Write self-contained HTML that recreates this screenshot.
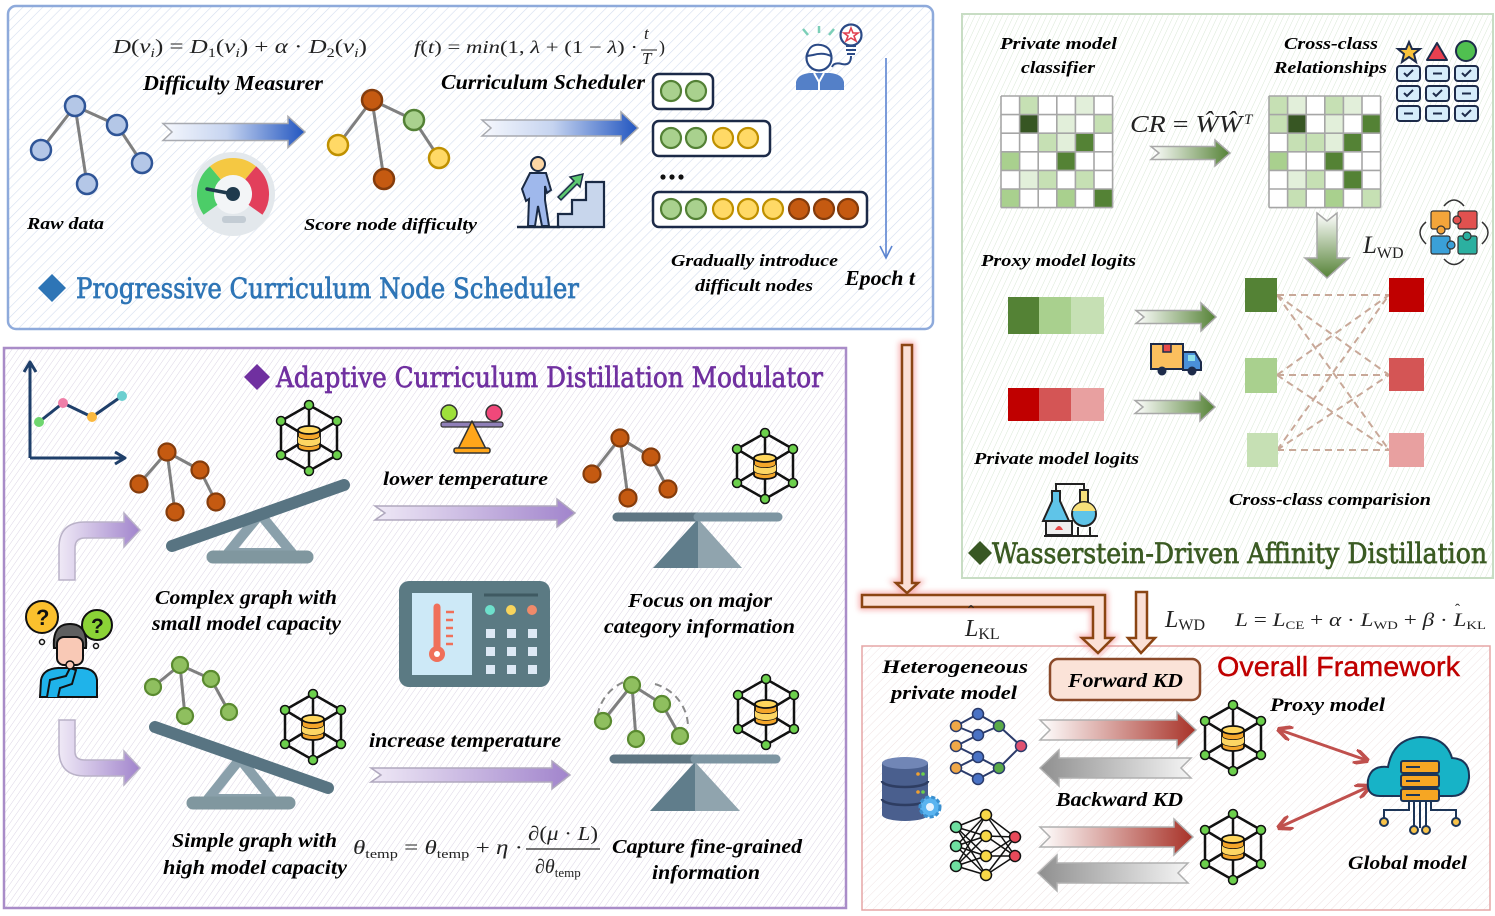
<!DOCTYPE html>
<html><head><meta charset="utf-8"><style>
html,body{margin:0;padding:0;background:#fff;}
svg{display:block;}
.lb{font-family:"Liberation Serif",serif;font-weight:bold;font-style:italic;fill:#000;}
.m{font-family:"Liberation Serif",serif;fill:#222;}
.i{font-style:italic;}
.ttl{font-family:"DejaVu Serif","Liberation Serif",serif;stroke-width:0.7;}
</style></head><body>
<svg width="1495" height="916" viewBox="0 0 1495 916" xmlns="http://www.w3.org/2000/svg">
<defs>
<pattern id="hb" width="7" height="7" patternUnits="userSpaceOnUse" patternTransform="rotate(45)"><line x1="0" y1="0" x2="0" y2="7" stroke="#d3ddef" stroke-width="1.2"/></pattern>
<pattern id="hg" width="5" height="5" patternUnits="userSpaceOnUse" patternTransform="rotate(25)"><line x1="0" y1="0" x2="0" y2="5" stroke="#d9e8d5" stroke-width="1"/></pattern>
<pattern id="hp" width="5" height="5" patternUnits="userSpaceOnUse" patternTransform="rotate(35)"><line x1="0" y1="0" x2="0" y2="5" stroke="#dcd5e5" stroke-width="1"/></pattern>
<pattern id="hr" width="6" height="6" patternUnits="userSpaceOnUse" patternTransform="rotate(45)"><line x1="0" y1="0" x2="0" y2="6" stroke="#efe3e3" stroke-width="1"/></pattern>
<linearGradient id="gB"><stop offset="0" stop-color="#f6f8fd"/><stop offset="0.45" stop-color="#c6d4f0"/><stop offset="1" stop-color="#2155c0"/></linearGradient>
<linearGradient id="gG"><stop offset="0" stop-color="#ffffff"/><stop offset="1" stop-color="#558236"/></linearGradient>
<linearGradient id="gGV" x1="0" y1="0" x2="0" y2="1"><stop offset="0" stop-color="#ffffff"/><stop offset="1" stop-color="#558236"/></linearGradient>
<linearGradient id="gP"><stop offset="0" stop-color="#efe9f6"/><stop offset="1" stop-color="#a184cc"/></linearGradient>
<linearGradient id="gR"><stop offset="0" stop-color="#ffffff"/><stop offset="1" stop-color="#a83228"/></linearGradient>
<linearGradient id="gGr" x1="1" y1="0" x2="0" y2="0"><stop offset="0" stop-color="#f4f4f4"/><stop offset="1" stop-color="#8f8f8f"/></linearGradient>
<filter id="blur" x="-50%" y="-50%" width="200%" height="200%"><feGaussianBlur stdDeviation="3"/></filter>
<marker id="ah" viewBox="0 0 10 10" refX="8" refY="5" markerWidth="5" markerHeight="5" orient="auto-start-reverse"><path d="M0,0 L10,5 L0,10" fill="none" stroke="#c0504d" stroke-width="2.5"/></marker>
<g id="hex">
 <path d="M0,-33 L28,-17 L28,17 L0,33 L-28,17 L-28,-17 Z M0,-33 L0,33 M28,-17 L-28,17 M28,17 L-28,-17" fill="none" stroke="#111" stroke-width="2.5" stroke-linejoin="round"/>
 <path d="M-11,-8 L-11,9 A11,4 0 0 0 11,9 L11,-8 Z" fill="#f4a62a" stroke="#111" stroke-width="1.8"/>
 <path d="M-11,-2 A11,4 0 0 0 11,-2 M-11,4 A11,4 0 0 0 11,4" fill="none" stroke="#111" stroke-width="1.5"/>
 <path d="M-11,-2 A11,4 0 0 0 11,-2 L11,4 A11,4 0 0 1 -11,4 Z" fill="#fdd663"/>
 <ellipse cx="0" cy="-8" rx="11" ry="4" fill="#ffd65c" stroke="#111" stroke-width="1.8"/>
 <g fill="#6cd04c" stroke="#111" stroke-width="1.5">
 <circle cx="0" cy="-33" r="4.5"/><circle cx="28" cy="-17" r="4.5"/><circle cx="28" cy="17" r="4.5"/><circle cx="0" cy="33" r="4.5"/><circle cx="-28" cy="17" r="4.5"/><circle cx="-28" cy="-17" r="4.5"/></g>
</g>
</defs>

<!-- ============ PANELS ============ -->
<rect x="8" y="6" width="925" height="323" rx="8" fill="#fff"/>
<rect x="8" y="6" width="925" height="323" rx="8" fill="url(#hb)" stroke="#8eaadb" stroke-width="2.5"/>
<rect x="962" y="14" width="531" height="564" fill="#fff"/>
<rect x="962" y="14" width="531" height="564" fill="url(#hg)" stroke="#c8ddc4" stroke-width="2"/>
<rect x="4" y="348" width="842" height="560" fill="#fff"/>
<rect x="4" y="348" width="842" height="560" fill="url(#hp)" stroke="#a98cc8" stroke-width="2.5"/>
<rect x="862" y="646" width="628" height="264" fill="#fff"/>
<rect x="862" y="646" width="628" height="264" fill="url(#hr)" stroke="#e5a5a5" stroke-width="1.5"/>

<!-- ============ BLUE PANEL ============ -->
<text class="m" x="113" y="53" font-size="20" textLength="254" lengthAdjust="spacingAndGlyphs"><tspan class="i">D</tspan>(<tspan class="i">v</tspan><tspan font-size="13" dy="4" class="i">i</tspan><tspan dy="-4">) = </tspan><tspan class="i">D</tspan><tspan font-size="13" dy="4">1</tspan><tspan dy="-4">(</tspan><tspan class="i">v</tspan><tspan font-size="13" dy="4" class="i">i</tspan><tspan dy="-4">) + </tspan><tspan class="i">α</tspan> · <tspan class="i">D</tspan><tspan font-size="13" dy="4">2</tspan><tspan dy="-4">(</tspan><tspan class="i">v</tspan><tspan font-size="13" dy="4" class="i">i</tspan><tspan dy="-4">)</tspan></text>
<text class="m" x="414" y="53" font-size="18" textLength="224" lengthAdjust="spacingAndGlyphs"><tspan class="i">f</tspan>(<tspan class="i">t</tspan>) = <tspan class="i">min</tspan>(1, <tspan class="i">λ</tspan> + (1 − <tspan class="i">λ</tspan>) ·</text>
<text class="m i" x="644" y="39" font-size="17">t</text>
<line x1="641" y1="50" x2="657" y2="50" stroke="#222" stroke-width="1"/>
<text class="m i" x="642" y="64" font-size="17">T</text>
<text class="m" x="659" y="53" font-size="18">)</text>

<text class="lb" x="143" y="90" font-size="21" textLength="180" lengthAdjust="spacingAndGlyphs">Difficulty Measurer</text>
<text class="lb" x="441" y="89" font-size="21" textLength="204" lengthAdjust="spacingAndGlyphs">Curriculum Scheduler</text>

<!-- raw graph -->
<g stroke="#7f7f7f" stroke-width="3"><line x1="75" y1="106" x2="41" y2="150"/><line x1="75" y1="106" x2="87" y2="184"/><line x1="75" y1="106" x2="117" y2="125"/><line x1="117" y1="125" x2="142" y2="163"/></g>
<g fill="#b4c7e7" stroke="#2f5597" stroke-width="2.5"><circle cx="75" cy="106" r="10"/><circle cx="117" cy="125" r="10"/><circle cx="41" cy="150" r="10"/><circle cx="142" cy="163" r="10"/><circle cx="87" cy="184" r="10"/></g>
<text class="lb" x="27" y="229" font-size="17" textLength="77" lengthAdjust="spacingAndGlyphs">Raw data</text>

<path d="M163,123.5 L288,123.5 L288,116.5 L305,132 L288,147.5 L288,140.5 L163,140.5 L172,132 Z" fill="url(#gB)" stroke="#a8aab0" stroke-width="1.5"/>
<path d="M482,120 L621,120 L621,112 L638,128 L621,144 L621,136 L482,136 L491,128 Z" fill="url(#gB)" stroke="#a8aab0" stroke-width="1.5"/>

<!-- gauge -->
<circle cx="233" cy="194" r="42" fill="#e3e8ec"/>
<circle cx="233" cy="194" r="20" fill="#f3f5f7"/>
<path d="M210.5,209.8 A27.5,27.5 0 0 1 215.3,172.9" fill="none" stroke="#4ccd68" stroke-width="17"/>
<path d="M215.3,172.9 A27.5,27.5 0 0 1 250.7,172.9" fill="none" stroke="#f5c842" stroke-width="17"/>
<path d="M250.7,172.9 A27.5,27.5 0 0 1 255.5,209.8" fill="none" stroke="#e23f5b" stroke-width="17"/>
<line x1="233" y1="194" x2="207" y2="189" stroke="#1f3a4d" stroke-width="3.5" stroke-linecap="round"/>
<circle cx="233" cy="194" r="7" fill="#1f3a4d"/>
<rect x="222" y="216" width="24" height="7" rx="3" fill="#c3ccd4"/>

<!-- score graph -->
<g stroke="#7f7f7f" stroke-width="3"><line x1="372" y1="100" x2="338" y2="145"/><line x1="372" y1="100" x2="384" y2="179"/><line x1="372" y1="100" x2="414" y2="120"/><line x1="414" y1="120" x2="439" y2="158"/></g>
<g stroke-width="2.5"><circle cx="372" cy="100" r="10" fill="#c55a11" stroke="#843c0c"/><circle cx="414" cy="120" r="10" fill="#a9d18e" stroke="#538135"/><circle cx="338" cy="145" r="10" fill="#ffd966" stroke="#bf9000"/><circle cx="439" cy="158" r="10" fill="#ffd966" stroke="#bf9000"/><circle cx="384" cy="179" r="10" fill="#c55a11" stroke="#843c0c"/></g>
<text class="lb" x="304" y="230" font-size="17" textLength="173" lengthAdjust="spacingAndGlyphs">Score node difficulty</text>

<!-- stairs icon -->
<path d="M558,227 L558,214 L572,214 L572,200 L586,200 L586,182 L604,182 L604,227 Z" fill="#c8d6ec" stroke="#1a2a44" stroke-width="2.2"/>
<line x1="517" y1="227" x2="560" y2="227" stroke="#1a2a44" stroke-width="2.5"/>
<path d="M530,173 L546,173 L551,190 L547,193 L545,186 L545,200 L549,226 L542,226 L538,206 L535,226 L528,226 L529,199 L526,201 L522,189 Z" fill="#9fb8ec" stroke="#1a2a44" stroke-width="2"/>
<circle cx="538" cy="164" r="7" fill="#fcd6a4" stroke="#1a2a44" stroke-width="2"/>
<path d="M558,197 L574,181 L570,177 L583,174 L580,187 L577,184 L561,200 Z" fill="#5cc870" stroke="#1a2a44" stroke-width="1.5"/>

<!-- boxes -->
<g fill="#fff" stroke="#1c2a48" stroke-width="2.5"><rect x="653" y="74" width="60" height="35" rx="6"/><rect x="653" y="121" width="117" height="35" rx="6"/><rect x="653" y="192" width="214" height="35" rx="6"/></g>
<g stroke-width="2.2">
<circle cx="671" cy="91" r="10" fill="#a9d18e" stroke="#538135"/><circle cx="696" cy="91" r="10" fill="#a9d18e" stroke="#538135"/>
<circle cx="671" cy="138" r="10" fill="#a9d18e" stroke="#538135"/><circle cx="696" cy="138" r="10" fill="#a9d18e" stroke="#538135"/><circle cx="723" cy="138" r="10" fill="#ffd966" stroke="#bf9000"/><circle cx="748" cy="138" r="10" fill="#ffd966" stroke="#bf9000"/>
<circle cx="671" cy="209" r="10" fill="#a9d18e" stroke="#538135"/><circle cx="696" cy="209" r="10" fill="#a9d18e" stroke="#538135"/><circle cx="723" cy="209" r="10" fill="#ffd966" stroke="#bf9000"/><circle cx="748" cy="209" r="10" fill="#ffd966" stroke="#bf9000"/><circle cx="773" cy="209" r="10" fill="#ffd966" stroke="#bf9000"/><circle cx="799" cy="209" r="10" fill="#c55a11" stroke="#843c0c"/><circle cx="824" cy="209" r="10" fill="#c55a11" stroke="#843c0c"/><circle cx="848" cy="209" r="10" fill="#c55a11" stroke="#843c0c"/>
</g>
<g fill="#111"><circle cx="663" cy="177" r="2.6"/><circle cx="672" cy="177" r="2.6"/><circle cx="681" cy="177" r="2.6"/></g>

<!-- person with bulb -->
<g stroke="#7ccfb8" stroke-width="2.5"><line x1="803" y1="29" x2="808" y2="35"/><line x1="819" y1="26" x2="819" y2="33"/><line x1="834" y1="29" x2="829" y2="35"/></g>
<path d="M796,90 L796,82 Q798,74 810,73 L830,73 Q842,74 844,82 L844,90 Z" fill="#5480c8"/>
<path d="M814,73 L819,82 L824,73 M819,82 L819,90" stroke="#fff" stroke-width="2" fill="none"/>
<circle cx="819" cy="58" r="12.5" fill="#fff" stroke="#2b4a86" stroke-width="2.2"/>
<path d="M807,56 Q809,43 821,45 Q831,47 831,56 Q823,52 813,55 Z" fill="#fff" stroke="#2b4a86" stroke-width="2"/>
<circle cx="851" cy="35" r="10.5" fill="#fff" stroke="#2b4a86" stroke-width="2.2"/>
<path d="M851,28 L853,33 L858,33 L854,36 L856,41 L851,38 L846,41 L848,36 L844,33 L849,33 Z" fill="none" stroke="#e04050" stroke-width="1.6"/>
<path d="M846,46 L856,46 M846,50 L856,50 M847,54 L855,54" stroke="#2b4a86" stroke-width="2"/>
<path d="M851,56 Q851,66 842,64 Q834,62 832,67" fill="none" stroke="#2b4a86" stroke-width="2"/>

<!-- epoch arrow -->
<line x1="886" y1="58" x2="886" y2="257" stroke="#5b84d0" stroke-width="1.6"/>
<path d="M880,246 L886,258 L892,246" fill="none" stroke="#5b84d0" stroke-width="1.6"/>

<text class="lb" x="671" y="266" font-size="17" textLength="167" lengthAdjust="spacingAndGlyphs">Gradually introduce</text>
<text class="lb" x="695" y="291" font-size="17" textLength="118" lengthAdjust="spacingAndGlyphs">difficult nodes</text>
<text class="lb" x="845" y="285" font-size="21" textLength="70" lengthAdjust="spacingAndGlyphs">Epoch t</text>

<path d="M52,274 L66,288 L52,302 L38,288 Z" fill="#2e75b6"/>
<text class="ttl" x="76" y="298" font-size="28" fill="#2e75b6" stroke="#2e75b6" textLength="503" lengthAdjust="spacingAndGlyphs">Progressive Curriculum Node Scheduler</text>

<!-- ============ GREEN PANEL ============ -->
<text class="lb" x="1000" y="49" font-size="17" textLength="117" lengthAdjust="spacingAndGlyphs">Private model</text>
<text class="lb" x="1021" y="73" font-size="17" textLength="74" lengthAdjust="spacingAndGlyphs">classifier</text>
<text class="lb" x="1284" y="49" font-size="17" textLength="94" lengthAdjust="spacingAndGlyphs">Cross-class</text>
<text class="lb" x="1274" y="73" font-size="17" textLength="113" lengthAdjust="spacingAndGlyphs">Relationships</text>

<!-- matrix 1 -->
<rect x="1001" y="96" width="111.6" height="111.6" fill="#fff"/>
<g>
<rect x="1019.6" y="96" width="18.6" height="18.6" fill="#c6e0b4"/><rect x="1075.4" y="96" width="18.6" height="18.6" fill="#e2efda"/>
<rect x="1019.6" y="114.6" width="18.6" height="18.6" fill="#375623"/><rect x="1056.8" y="114.6" width="18.6" height="18.6" fill="#e2efda"/><rect x="1094" y="114.6" width="18.6" height="18.6" fill="#c6e0b4"/>
<rect x="1038.2" y="133.2" width="18.6" height="18.6" fill="#c6e0b4"/><rect x="1056.8" y="133.2" width="18.6" height="18.6" fill="#e2efda"/><rect x="1075.4" y="133.2" width="18.6" height="18.6" fill="#548235"/>
<rect x="1001" y="151.8" width="18.6" height="18.6" fill="#a9d08e"/><rect x="1056.8" y="151.8" width="18.6" height="18.6" fill="#548235"/>
<rect x="1019.6" y="170.4" width="18.6" height="18.6" fill="#e2efda"/><rect x="1038.2" y="170.4" width="18.6" height="18.6" fill="#c6e0b4"/><rect x="1075.4" y="170.4" width="18.6" height="18.6" fill="#c6e0b4"/>
<rect x="1001" y="189" width="18.6" height="18.6" fill="#a9d08e"/><rect x="1056.8" y="189" width="18.6" height="18.6" fill="#a9d08e"/><rect x="1094" y="189" width="18.6" height="18.6" fill="#548235"/>
</g>
<path d="M1001,96 V207.6 M1019.6,96 V207.6 M1038.2,96 V207.6 M1056.8,96 V207.6 M1075.4,96 V207.6 M1094,96 V207.6 M1112.6,96 V207.6 M1001,96 H1112.6 M1001,114.6 H1112.6 M1001,133.2 H1112.6 M1001,151.8 H1112.6 M1001,170.4 H1112.6 M1001,189 H1112.6 M1001,207.6 H1112.6" stroke="#a6a6a6" stroke-width="1.6" fill="none"/>

<!-- matrix 2 -->
<rect x="1269" y="96" width="111.6" height="111.6" fill="#fff"/>
<g>
<rect x="1269" y="96" width="18.6" height="18.6" fill="#c6e0b4"/><rect x="1287.6" y="96" width="18.6" height="18.6" fill="#e2efda"/><rect x="1324.8" y="96" width="18.6" height="18.6" fill="#c6e0b4"/><rect x="1343.4" y="96" width="18.6" height="18.6" fill="#e2efda"/>
<rect x="1269" y="114.6" width="18.6" height="18.6" fill="#c6e0b4"/><rect x="1287.6" y="114.6" width="18.6" height="18.6" fill="#375623"/><rect x="1324.8" y="114.6" width="18.6" height="18.6" fill="#e2efda"/><rect x="1362" y="114.6" width="18.6" height="18.6" fill="#548235"/>
<rect x="1287.6" y="133.2" width="18.6" height="18.6" fill="#c6e0b4"/><rect x="1306.2" y="133.2" width="18.6" height="18.6" fill="#c6e0b4"/><rect x="1324.8" y="133.2" width="18.6" height="18.6" fill="#e2efda"/><rect x="1343.4" y="133.2" width="18.6" height="18.6" fill="#548235"/>
<rect x="1269" y="151.8" width="18.6" height="18.6" fill="#a9d08e"/><rect x="1324.8" y="151.8" width="18.6" height="18.6" fill="#548235"/>
<rect x="1287.6" y="170.4" width="18.6" height="18.6" fill="#e2efda"/><rect x="1306.2" y="170.4" width="18.6" height="18.6" fill="#c6e0b4"/><rect x="1343.4" y="170.4" width="18.6" height="18.6" fill="#548235"/>
<rect x="1287.6" y="189" width="18.6" height="18.6" fill="#c6e0b4"/><rect x="1324.8" y="189" width="18.6" height="18.6" fill="#a9d08e"/><rect x="1362" y="189" width="18.6" height="18.6" fill="#c6e0b4"/>
</g>
<path d="M1269,96 V207.6 M1287.6,96 V207.6 M1306.2,96 V207.6 M1324.8,96 V207.6 M1343.4,96 V207.6 M1362,96 V207.6 M1380.6,96 V207.6 M1269,96 H1380.6 M1269,114.6 H1380.6 M1269,133.2 H1380.6 M1269,151.8 H1380.6 M1269,170.4 H1380.6 M1269,189 H1380.6 M1269,207.6 H1380.6" stroke="#a6a6a6" stroke-width="1.6" fill="none"/>

<text class="m" x="1130" y="132" font-size="24" textLength="112" lengthAdjust="spacingAndGlyphs"><tspan class="i">CR</tspan> = <tspan class="i">ŴŴ</tspan></text>
<text class="m i" x="1244" y="124" font-size="15">T</text>
<path d="M1151,146.5 L1215,146.5 L1215,140 L1230,153 L1215,166 L1215,159.5 L1151,159.5 L1159,153 Z" fill="url(#gG)" stroke="#a8a8a8" stroke-width="1.5"/>

<!-- shapes + checklist -->
<path d="M1409,42 L1412,49 L1420,49 L1414,54 L1416,62 L1409,57 L1402,62 L1404,54 L1398,49 L1406,49 Z" fill="#f9c33c" stroke="#1d2b4a" stroke-width="2"/>
<path d="M1437,43 L1447,60 L1427,60 Z" fill="#e84050" stroke="#1d2b4a" stroke-width="2" stroke-linejoin="round"/>
<circle cx="1466" cy="51" r="10" fill="#50c050" stroke="#1d2b4a" stroke-width="2"/>
<g fill="#d6ecfa" stroke="#1d2b4a" stroke-width="2">
<rect x="1397" y="66" width="23" height="15" rx="3"/><rect x="1426" y="66" width="23" height="15" rx="3"/><rect x="1455" y="66" width="23" height="15" rx="3"/>
<rect x="1397" y="86" width="23" height="15" rx="3"/><rect x="1426" y="86" width="23" height="15" rx="3"/><rect x="1455" y="86" width="23" height="15" rx="3"/>
<rect x="1397" y="106" width="23" height="15" rx="3"/><rect x="1426" y="106" width="23" height="15" rx="3"/><rect x="1455" y="106" width="23" height="15" rx="3"/>
</g>
<g fill="none" stroke="#1d2b4a" stroke-width="2">
<path d="M1404,73 L1407,76 L1413,70"/><path d="M1433,73.5 H1442"/><path d="M1462,73 L1465,76 L1471,70"/>
<path d="M1404,93 L1407,96 L1413,90"/><path d="M1433,93 L1436,96 L1442,90"/><path d="M1462,93.5 H1471"/>
<path d="M1404,113.5 H1413"/><path d="M1433,113.5 H1442"/><path d="M1462,113 L1465,116 L1471,110"/>
</g>

<path d="M1317,213 L1327,221 L1337,213 L1337,258 L1349,258 L1327,278 L1305,258 L1317,258 Z" fill="url(#gGV)" stroke="#a8a8a8" stroke-width="1.5"/>
<text class="m" x="1363" y="253" font-size="25"><tspan class="i">L</tspan><tspan font-size="16" dy="5">WD</tspan></text>

<!-- puzzle -->
<g stroke="#333" stroke-width="1.2">
<rect x="1431" y="211" width="19" height="18" rx="2" fill="#f3a53a"/><circle cx="1441" cy="230" r="4" fill="#f3a53a"/>
<rect x="1458" y="211" width="19" height="18" rx="2" fill="#e2514f"/><circle cx="1457" cy="220" r="4" fill="#e2514f"/>
<rect x="1431" y="236" width="19" height="18" rx="2" fill="#3aa0d8"/><circle cx="1451" cy="245" r="4" fill="#3aa0d8"/>
<rect x="1458" y="236" width="19" height="18" rx="2" fill="#2bb0a0"/><circle cx="1467" cy="236" r="4" fill="#2bb0a0"/>
</g>
<g fill="none" stroke="#333" stroke-width="1.5">
<path d="M1444,206 Q1454,194 1464,206"/><path d="M1482,222 Q1494,232 1482,244"/><path d="M1444,259 Q1454,270 1464,259"/><path d="M1426,222 Q1414,232 1426,244"/>
</g>

<text class="lb" x="981" y="266" font-size="17" textLength="155" lengthAdjust="spacingAndGlyphs">Proxy model logits</text>

<!-- logits bars -->
<rect x="1008" y="297" width="31" height="37" fill="#548235"/><rect x="1039" y="297" width="32" height="37" fill="#a9d08e"/><rect x="1071" y="297" width="33" height="37" fill="#c6e0b4"/>
<rect x="1008" y="388" width="31" height="33" fill="#c00000"/><rect x="1039" y="388" width="32" height="33" fill="#d45555"/><rect x="1071" y="388" width="33" height="33" fill="#e8a0a0"/>
<path d="M1136,310.5 L1201,310.5 L1201,303 L1216,317 L1201,331 L1201,323.5 L1136,323.5 L1144,317 Z" fill="url(#gG)" stroke="#a8a8a8" stroke-width="1.5"/>
<path d="M1135,400.5 L1200,400.5 L1200,393 L1215,407 L1200,421 L1200,413.5 L1135,413.5 L1143,407 Z" fill="url(#gG)" stroke="#a8a8a8" stroke-width="1.5"/>

<!-- truck -->
<rect x="1151" y="344" width="32" height="25" fill="#fbbf5e" stroke="#1d2b4a" stroke-width="2"/>
<rect x="1163" y="344" width="8" height="8" fill="#e84a4a" stroke="#1d2b4a" stroke-width="1.5"/>
<path d="M1183,352 L1195,352 L1201,362 L1201,370 L1183,370 Z" fill="#4a90d9" stroke="#1d2b4a" stroke-width="2"/>
<rect x="1188" y="355" width="7" height="6" fill="#8fe0e8"/>
<circle cx="1162" cy="371" r="4.5" fill="#1d2b4a"/><circle cx="1192" cy="371" r="4.5" fill="#1d2b4a"/>

<!-- cross-class comparison -->
<g stroke="#c8a898" stroke-width="2" stroke-dasharray="7,5" fill="none">
<line x1="1277" y1="295" x2="1389" y2="295"/><line x1="1277" y1="295" x2="1389" y2="375"/><line x1="1277" y1="295" x2="1389" y2="450"/>
<line x1="1277" y1="375" x2="1389" y2="295"/><line x1="1277" y1="375" x2="1389" y2="375"/><line x1="1277" y1="375" x2="1389" y2="450"/>
<line x1="1277" y1="450" x2="1389" y2="295"/><line x1="1277" y1="450" x2="1389" y2="375"/><line x1="1277" y1="450" x2="1389" y2="450"/>
</g>
<rect x="1245" y="278" width="32" height="34" fill="#548235"/>
<rect x="1245" y="358" width="32" height="35" fill="#a9d08e"/>
<rect x="1247" y="433" width="31" height="34" fill="#c6e0b4"/>
<rect x="1389" y="278" width="35" height="34" fill="#c00000"/>
<rect x="1389" y="358" width="35" height="33" fill="#d45555"/>
<rect x="1389" y="433" width="35" height="34" fill="#e8a0a0"/>

<text class="lb" x="974" y="464" font-size="17" textLength="165" lengthAdjust="spacingAndGlyphs">Private model logits</text>
<text class="lb" x="1229" y="505" font-size="17" textLength="202" lengthAdjust="spacingAndGlyphs">Cross-class comparision</text>

<!-- flask icon -->
<path d="M1056,491 L1056,484 L1084,484 L1084,492" fill="none" stroke="#222" stroke-width="2"/>
<path d="M1052,491 L1060,491 L1060,501 L1069,521 L1043,521 L1052,501 Z" fill="#5fc4e8" stroke="#222" stroke-width="2"/>
<rect x="1080" y="490" width="8" height="13" fill="#f7e07a" stroke="#222" stroke-width="2"/>
<circle cx="1084" cy="514" r="12" fill="#5fc4e8" stroke="#222" stroke-width="2"/>
<path d="M1072.5,511 A12,12 0 0 1 1095.5,511 Z" fill="#f7e07a"/>
<rect x="1046" y="521" width="26" height="14" fill="#eee" stroke="#222" stroke-width="2"/>
<path d="M1055,530 Q1059,522 1063,530 Z" fill="#e84a4a"/>
<line x1="1044" y1="536" x2="1098" y2="536" stroke="#222" stroke-width="2"/>
<line x1="1078" y1="527" x2="1078" y2="536" stroke="#222" stroke-width="2"/><line x1="1090" y1="527" x2="1090" y2="536" stroke="#222" stroke-width="2"/>

<path d="M980,541 L992,553 L980,565 L968,553 Z" fill="#385723"/>
<text class="ttl" x="992" y="563" font-size="28" fill="#3a5a22" stroke="#3a5a22" textLength="495" lengthAdjust="spacingAndGlyphs">Wasserstein-Driven Affinity Distillation</text>

<!-- ============ PIPE ARROWS ============ -->
<g fill="none" stroke="#f07070" stroke-width="6" opacity="0.55" filter="url(#blur)">
<path d="M902,345 L912,345 L912,583 L918,583 L907,593 L896,583 L902,583 Z"/>
<path d="M862,595 L1105,595 L1105,638 L1113,638 L1098,653 L1082,638 L1093,638 L1093,607 L862,607 Z"/>
</g>
<g fill="#fbe0d6" stroke="#8b4513" stroke-width="2.5" stroke-linejoin="miter">
<path d="M902,345 L912,345 L912,583 L918,583 L907,593 L896,583 L902,583 Z"/>
<path d="M862,595 L1105,595 L1105,638 L1113,638 L1098,653 L1082,638 L1093,638 L1093,607 L862,607 Z"/>
<path d="M1136,592 L1147,592 L1147,638 L1155,638 L1141,653 L1128,638 L1136,638 Z"/>
</g>
<text class="m" x="965" y="636" font-size="24"><tspan class="i">L</tspan><tspan font-size="16" dy="3">KL</tspan></text>
<text class="m" x="968" y="618" font-size="18">ˆ</text>
<text class="m" x="1165" y="627" font-size="24"><tspan class="i">L</tspan><tspan font-size="16" dy="3">WD</tspan></text>
<text class="m" x="1235" y="626" font-size="19" textLength="251" lengthAdjust="spacingAndGlyphs"><tspan class="i">L</tspan> = <tspan class="i">L</tspan><tspan font-size="12" dy="3">CE</tspan><tspan dy="-3"> + </tspan><tspan class="i">α</tspan> · <tspan class="i">L</tspan><tspan font-size="12" dy="3">WD</tspan><tspan dy="-3"> + </tspan><tspan class="i">β</tspan> · <tspan class="i">L</tspan><tspan font-size="12" dy="3">KL</tspan></text>
<text class="m" x="1455" y="614" font-size="15">ˆ</text>

<!-- ============ RED PANEL ============ -->
<text class="lb" x="882" y="673" font-size="19" textLength="146" lengthAdjust="spacingAndGlyphs">Heterogeneous</text>
<text class="lb" x="891" y="699" font-size="19" textLength="126" lengthAdjust="spacingAndGlyphs">private model</text>
<rect x="1050" y="659" width="150" height="41" rx="8" fill="#fbe3d8" stroke="#8b4a2a" stroke-width="2.5"/>
<text class="lb" x="1068" y="687" font-size="20" textLength="115" lengthAdjust="spacingAndGlyphs">Forward KD</text>
<text x="1217" y="676" font-family="Liberation Sans, sans-serif" font-size="28" fill="#c00000" stroke="#c00000" stroke-width="0.4" textLength="243" lengthAdjust="spacingAndGlyphs">Overall Framework</text>
<text class="lb" x="1270" y="711" font-size="19" textLength="115" lengthAdjust="spacingAndGlyphs">Proxy model</text>

<!-- NN1 -->
<g stroke="#2a3a6a" stroke-width="2">
<line x1="956" y1="726" x2="978" y2="714"/><line x1="956" y1="726" x2="978" y2="735"/><line x1="956" y1="746" x2="978" y2="735"/><line x1="956" y1="746" x2="978" y2="757"/><line x1="956" y1="768" x2="978" y2="757"/><line x1="956" y1="768" x2="978" y2="779"/>
<line x1="978" y1="714" x2="999" y2="726"/><line x1="978" y1="735" x2="999" y2="726"/><line x1="978" y1="757" x2="999" y2="768"/><line x1="978" y1="779" x2="999" y2="768"/>
<line x1="999" y1="726" x2="1021" y2="746"/><line x1="999" y1="768" x2="1021" y2="746"/>
</g>
<g stroke="#2a3a6a" stroke-width="1.5">
<circle cx="956" cy="726" r="5.5" fill="#f0a848"/><circle cx="956" cy="746" r="5.5" fill="#f0a848"/><circle cx="956" cy="768" r="5.5" fill="#f0a848"/>
<circle cx="978" cy="714" r="5.5" fill="#4a72c4"/><circle cx="978" cy="735" r="5.5" fill="#4a72c4"/><circle cx="978" cy="757" r="5.5" fill="#4a72c4"/><circle cx="978" cy="779" r="5.5" fill="#4a72c4"/>
<circle cx="999" cy="726" r="5.5" fill="#5aaa48"/><circle cx="999" cy="768" r="5.5" fill="#5aaa48"/>
<circle cx="1021" cy="746" r="5.5" fill="#e05070"/>
</g>

<!-- database -->
<rect x="882" y="763" width="46" height="52" fill="#4a5f8e"/>
<ellipse cx="905" cy="815" rx="23" ry="6" fill="#4a5f8e"/>
<path d="M882,781 A23,6 0 0 0 928,781 M882,799 A23,6 0 0 0 928,799" stroke="#2e3d62" stroke-width="2.5" fill="none"/>
<ellipse cx="905" cy="763" rx="23" ry="6" fill="#7186b6"/>
<g fill="#f0a030"><circle cx="918" cy="774" r="1.8"/><circle cx="918" cy="792" r="1.8"/></g>
<g fill="#6cd04c"><circle cx="923" cy="774" r="1.8"/><circle cx="923" cy="792" r="1.8"/></g>
<circle cx="930" cy="807" r="10" fill="#5ab4f0" stroke="#3a90d0" stroke-width="3" stroke-dasharray="4,2"/>
<circle cx="930" cy="807" r="4" fill="#e8f4ff"/>

<!-- NN2 -->
<g stroke="#111" stroke-width="1.5">
<line x1="956" y1="827" x2="986" y2="815"/><line x1="956" y1="827" x2="986" y2="836"/><line x1="956" y1="827" x2="986" y2="856"/><line x1="956" y1="827" x2="986" y2="875"/>
<line x1="956" y1="846" x2="986" y2="815"/><line x1="956" y1="846" x2="986" y2="836"/><line x1="956" y1="846" x2="986" y2="856"/><line x1="956" y1="846" x2="986" y2="875"/>
<line x1="956" y1="866" x2="986" y2="815"/><line x1="956" y1="866" x2="986" y2="836"/><line x1="956" y1="866" x2="986" y2="856"/><line x1="956" y1="866" x2="986" y2="875"/>
<line x1="986" y1="815" x2="1015" y2="837"/><line x1="986" y1="836" x2="1015" y2="837"/><line x1="986" y1="856" x2="1015" y2="837"/><line x1="986" y1="875" x2="1015" y2="837"/>
<line x1="986" y1="815" x2="1015" y2="856"/><line x1="986" y1="836" x2="1015" y2="856"/><line x1="986" y1="856" x2="1015" y2="856"/><line x1="986" y1="875" x2="1015" y2="856"/>
</g>
<g stroke="#111" stroke-width="1.5">
<circle cx="956" cy="827" r="5.5" fill="#6ee0a0"/><circle cx="956" cy="846" r="5.5" fill="#6ee0a0"/><circle cx="956" cy="866" r="5.5" fill="#6ee0a0"/>
<circle cx="986" cy="815" r="5.5" fill="#f8d848"/><circle cx="986" cy="836" r="5.5" fill="#f8d848"/><circle cx="986" cy="856" r="5.5" fill="#f8d848"/><circle cx="986" cy="875" r="5.5" fill="#f8d848"/>
<circle cx="1015" cy="837" r="5.5" fill="#e84a5a"/><circle cx="1015" cy="856" r="5.5" fill="#e84a5a"/>
</g>

<!-- KD arrows -->
<path d="M1040,720 L1177,720 L1177,712 L1196,730 L1177,748 L1177,740 L1040,740 L1050,730 Z" fill="url(#gR)" stroke="#b0b0b0" stroke-width="1.5"/>
<path d="M1191,758 L1059,758 L1059,750 L1040,768 L1059,786 L1059,778 L1191,778 L1181,768 Z" fill="url(#gGr)" stroke="#b0b0b0" stroke-width="1.5"/>
<path d="M1040,827 L1174,827 L1174,819 L1193,837 L1174,855 L1174,847 L1040,847 L1050,837 Z" fill="url(#gR)" stroke="#b0b0b0" stroke-width="1.5"/>
<path d="M1188,863 L1057,863 L1057,855 L1038,873 L1057,891 L1057,883 L1188,883 L1178,873 Z" fill="url(#gGr)" stroke="#b0b0b0" stroke-width="1.5"/>
<text class="lb" x="1056" y="806" font-size="20" textLength="127" lengthAdjust="spacingAndGlyphs">Backward KD</text>

<use href="#hex" x="1233" y="738"/>
<use href="#hex" x="1233" y="847"/>

<line x1="1280" y1="730" x2="1366" y2="760" stroke="#c0504d" stroke-width="3" marker-start="url(#ah)" marker-end="url(#ah)"/>
<line x1="1280" y1="827" x2="1368" y2="787" stroke="#c0504d" stroke-width="3" marker-start="url(#ah)" marker-end="url(#ah)"/>

<!-- cloud -->
<path d="M1380,796 Q1366,796 1368,780 Q1371,765 1388,767 Q1393,739 1420,737 Q1446,737 1452,758 Q1470,759 1469,778 Q1467,796 1452,796 Z" fill="#17b3c7" stroke="#1d3557" stroke-width="2"/>
<g fill="#f6a623" stroke="#1d3557" stroke-width="2"><rect x="1401" y="761" width="38" height="12" rx="2"/><rect x="1401" y="775" width="38" height="12" rx="2"/><rect x="1401" y="789" width="38" height="12" rx="2"/></g>
<g stroke="#1d3557" stroke-width="2" fill="none">
<path d="M1409,801 L1409,810 L1384,810 L1384,818"/><path d="M1414,801 L1414,826"/><path d="M1420,801 L1420,828"/><path d="M1426,801 L1426,826"/><path d="M1431,801 L1431,810 L1456,810 L1456,818"/>
<line x1="1406" y1="767" x2="1420" y2="767"/><line x1="1406" y1="781" x2="1420" y2="781"/><line x1="1406" y1="795" x2="1420" y2="795"/>
</g>
<g fill="#f8c34a" stroke="#1d3557" stroke-width="2"><circle cx="1384" cy="822" r="4"/><circle cx="1414" cy="830" r="4"/><circle cx="1426" cy="830" r="4"/><circle cx="1456" cy="822" r="4"/></g>
<text class="lb" x="1348" y="869" font-size="19" textLength="119" lengthAdjust="spacingAndGlyphs">Global model</text>

<!-- ============ PURPLE PANEL ============ -->
<path d="M30,458 L30,364 M24,372 L30,362 L36,372 M30,458 L123,458 M115,452 L125,458 L115,464" fill="none" stroke="#1f3f6a" stroke-width="3" stroke-linejoin="round"/>
<polyline points="39,422 63,403 92,417 122,396" fill="none" stroke="#1f3f6a" stroke-width="3"/>
<circle cx="39" cy="422" r="5" fill="#6fd66f"/><circle cx="63" cy="403" r="5" fill="#ef7fa8"/><circle cx="92" cy="417" r="5" fill="#fbb940"/><circle cx="122" cy="396" r="5" fill="#6ccfd0"/>

<path d="M257,364 L270,377 L257,390 L244,377 Z" fill="#7030a0"/>
<text class="ttl" x="276" y="387" font-size="28" fill="#7030a0" stroke="#7030a0" textLength="547" lengthAdjust="spacingAndGlyphs">Adaptive Curriculum Distillation Modulator</text>

<!-- curved arrows -->
<path d="M59,580 L59,548 Q59,522 85,522 L124,522 L124,513 L140,530 L124,547 L124,538 L85,538 Q75,538 75,548 L75,580 Z" fill="url(#gP)" stroke="#bab2c8" stroke-width="1.5"/>
<path d="M59,720 L75,720 L75,752 Q75,760 85,760 L124,760 L124,751 L140,768 L124,785 L124,776 L85,776 Q59,776 59,750 Z" fill="url(#gP)" stroke="#bab2c8" stroke-width="1.5"/>

<!-- seesaw 1 -->
<path d="M228,553 L260,514 L292,553 Z" fill="none" stroke="#8aa0ab" stroke-width="10" stroke-linejoin="round"/>
<line x1="213" y1="557" x2="307" y2="557" stroke="#80979f" stroke-width="13" stroke-linecap="round"/>
<line x1="172" y1="546" x2="344" y2="485" stroke="#587482" stroke-width="12" stroke-linecap="round"/>
<g stroke="#7f7f7f" stroke-width="3"><line x1="167" y1="452" x2="139" y2="484"/><line x1="167" y1="452" x2="175" y2="512"/><line x1="167" y1="452" x2="200" y2="470"/><line x1="200" y1="470" x2="216" y2="502"/></g>
<g fill="#c55a11" stroke="#843c0c" stroke-width="2.2"><circle cx="167" cy="452" r="8.5"/><circle cx="200" cy="470" r="8.5"/><circle cx="139" cy="484" r="8.5"/><circle cx="216" cy="502" r="8.5"/><circle cx="175" cy="512" r="8.5"/></g>
<use href="#hex" x="309" y="438"/>
<text class="lb" x="155" y="604" font-size="20" textLength="182" lengthAdjust="spacingAndGlyphs">Complex graph with</text>
<text class="lb" x="152" y="630" font-size="20" textLength="189" lengthAdjust="spacingAndGlyphs">small model capacity</text>

<!-- balance icon -->
<rect x="441" y="422" width="62" height="5" rx="2" fill="#8f7fb8" stroke="#333" stroke-width="1.2"/>
<circle cx="449" cy="413" r="8" fill="#9ee03a" stroke="#333" stroke-width="1.5"/>
<circle cx="494" cy="413" r="8" fill="#f0487a" stroke="#333" stroke-width="1.5"/>
<path d="M472,421 L486,449 L458,449 Z" fill="#ffa61a" stroke="#333" stroke-width="1.5" stroke-linejoin="round"/>
<rect x="454" y="448" width="36" height="5" rx="2" fill="#ffa61a" stroke="#333" stroke-width="1.5"/>
<text class="lb" x="383" y="485" font-size="19" textLength="165" lengthAdjust="spacingAndGlyphs">lower temperature</text>
<path d="M375,506 L557,506 L557,499 L575,513 L557,527 L557,520 L375,520 L385,513 Z" fill="url(#gP)" stroke="#b0a8be" stroke-width="1.5"/>

<!-- seesaw 2 (level) -->
<path d="M698,519 L653,568 L698,568 Z" fill="#607d8b"/><path d="M698,519 L742,568 L698,568 Z" fill="#90a4ae"/>
<line x1="617" y1="517" x2="698" y2="517" stroke="#5f7683" stroke-width="9" stroke-linecap="round"/>
<line x1="698" y1="517" x2="778" y2="517" stroke="#7d95a2" stroke-width="9" stroke-linecap="round"/>
<g stroke="#7f7f7f" stroke-width="3"><line x1="620" y1="438" x2="592" y2="474"/><line x1="620" y1="438" x2="628" y2="498"/><line x1="620" y1="438" x2="651" y2="457"/><line x1="651" y1="457" x2="668" y2="489"/></g>
<g fill="#c55a11" stroke="#843c0c" stroke-width="2.2"><circle cx="620" cy="438" r="8.5"/><circle cx="651" cy="457" r="8.5"/><circle cx="592" cy="474" r="8.5"/><circle cx="668" cy="489" r="8.5"/><circle cx="628" cy="498" r="8.5"/></g>
<use href="#hex" x="765" y="466"/>
<text class="lb" x="628" y="607" font-size="20" textLength="144" lengthAdjust="spacingAndGlyphs">Focus on major</text>
<text class="lb" x="604" y="633" font-size="20" textLength="191" lengthAdjust="spacingAndGlyphs">category information</text>

<!-- thermostat -->
<rect x="399" y="581" width="151" height="106" rx="10" fill="#5b7a83"/>
<rect x="412" y="593" width="60" height="82" fill="#cde9f7"/>
<line x1="437" y1="607" x2="437" y2="650" stroke="#f0705a" stroke-width="7" stroke-linecap="round"/>
<circle cx="437" cy="654" r="8" fill="#f0705a"/><circle cx="437" cy="654" r="3" fill="#fff"/>
<g stroke="#f0705a" stroke-width="2.5"><line x1="446" y1="612" x2="454" y2="612"/><line x1="446" y1="620" x2="453" y2="620"/><line x1="446" y1="628" x2="453" y2="628"/><line x1="446" y1="636" x2="453" y2="636"/><line x1="446" y1="644" x2="453" y2="644"/></g>
<line x1="484" y1="595" x2="538" y2="595" stroke="#3f5a62" stroke-width="3"/>
<circle cx="490" cy="610" r="5" fill="#6ee0cc"/><circle cx="511" cy="610" r="5" fill="#f8d45c"/><circle cx="532" cy="610" r="5" fill="#f08a6a"/>
<g fill="#dde9f5"><rect x="486" y="629" width="9" height="9"/><rect x="507" y="629" width="9" height="9"/><rect x="528" y="629" width="9" height="9"/><rect x="486" y="647" width="9" height="9"/><rect x="507" y="647" width="9" height="9"/><rect x="528" y="647" width="9" height="9"/><rect x="486" y="665" width="9" height="9"/><rect x="507" y="665" width="9" height="9"/><rect x="528" y="665" width="9" height="9"/></g>

<!-- thinking person -->
<circle cx="42" cy="617" r="16" fill="#fbc02d" stroke="#111" stroke-width="2"/>
<text x="36" y="625" font-family="Liberation Sans, sans-serif" font-weight="bold" font-size="22" fill="#111">?</text>
<circle cx="97" cy="625" r="15" fill="#8bd336" stroke="#111" stroke-width="2"/>
<text x="91" y="633" font-family="Liberation Sans, sans-serif" font-weight="bold" font-size="21" fill="#111">?</text>
<circle cx="42" cy="642" r="2.5" fill="#fff" stroke="#111" stroke-width="1.5"/><circle cx="96" cy="646" r="2.5" fill="#fff" stroke="#111" stroke-width="1.5"/>
<path d="M54,648 Q52,624 70,624 Q88,624 86,648 Z" fill="#5f5f5f" stroke="#111" stroke-width="2"/>
<rect x="57" y="637" width="26" height="28" rx="7" fill="#f9c9b6" stroke="#111" stroke-width="2"/>
<path d="M40,697 L41,680 Q43,669 58,668 L82,668 Q96,669 97,680 L97,697 Z" fill="#1fb3ea" stroke="#111" stroke-width="2"/>
<path d="M47,697 L50,680 L66,676 L70,668 L76,670 L72,684 L60,688 L58,697" fill="#1fb3ea" stroke="#111" stroke-width="2"/>
<circle cx="70" cy="665" r="4" fill="#f9c9b6" stroke="#111" stroke-width="1.5"/>

<!-- seesaw 3 (tilted right down) -->
<path d="M208,799 L240,759 L272,799 Z" fill="none" stroke="#8aa0ab" stroke-width="10" stroke-linejoin="round"/>
<line x1="193" y1="803" x2="289" y2="803" stroke="#80979f" stroke-width="13" stroke-linecap="round"/>
<line x1="155" y1="727" x2="328" y2="788" stroke="#587482" stroke-width="12" stroke-linecap="round"/>
<g stroke="#7f7f7f" stroke-width="3"><line x1="180" y1="665" x2="153" y2="687"/><line x1="180" y1="665" x2="185" y2="716"/><line x1="180" y1="665" x2="211" y2="679"/><line x1="211" y1="679" x2="229" y2="712"/></g>
<g fill="#8fbf5f" stroke="#5a8a30" stroke-width="2.2"><circle cx="180" cy="665" r="8"/><circle cx="211" cy="679" r="8"/><circle cx="153" cy="687" r="8"/><circle cx="229" cy="712" r="8"/><circle cx="185" cy="716" r="8"/></g>
<use href="#hex" x="313" y="727"/>
<text class="lb" x="172" y="847" font-size="20" textLength="165" lengthAdjust="spacingAndGlyphs">Simple graph with</text>
<text class="lb" x="163" y="874" font-size="20" textLength="184" lengthAdjust="spacingAndGlyphs">high model capacity</text>

<text class="lb" x="369" y="747" font-size="20" textLength="192" lengthAdjust="spacingAndGlyphs">increase temperature</text>
<path d="M371,768 L552,768 L552,761 L570,775 L552,789 L552,782 L371,782 L381,775 Z" fill="url(#gP)" stroke="#b0a8be" stroke-width="1.5"/>

<!-- seesaw 4 (level) -->
<path d="M695,762 L650,811 L695,811 Z" fill="#607d8b"/><path d="M695,762 L740,811 L695,811 Z" fill="#90a4ae"/>
<line x1="614" y1="759" x2="695" y2="759" stroke="#5f7683" stroke-width="9" stroke-linecap="round"/>
<line x1="695" y1="759" x2="776" y2="759" stroke="#7d95a2" stroke-width="9" stroke-linecap="round"/>
<path d="M597,727 A46,45 0 0 1 626,681 M655,684 A46,45 0 0 1 688,728" fill="none" stroke="#8a8a8a" stroke-width="2" stroke-dasharray="7,5"/>
<g stroke="#7f7f7f" stroke-width="3"><line x1="632" y1="685" x2="603" y2="721"/><line x1="632" y1="685" x2="636" y2="739"/><line x1="632" y1="685" x2="662" y2="704"/><line x1="662" y1="704" x2="680" y2="736"/></g>
<g fill="#8fbf5f" stroke="#5a8a30" stroke-width="2.2"><circle cx="632" cy="685" r="8"/><circle cx="662" cy="704" r="8"/><circle cx="603" cy="721" r="8"/><circle cx="680" cy="736" r="8"/><circle cx="636" cy="739" r="8"/></g>
<use href="#hex" x="766" y="712"/>

<!-- theta formula -->
<text class="m" x="353" y="854" font-size="20" textLength="170" lengthAdjust="spacingAndGlyphs"><tspan class="i">θ</tspan><tspan font-size="13" dy="4">temp</tspan><tspan dy="-4"> = </tspan><tspan class="i">θ</tspan><tspan font-size="13" dy="4">temp</tspan><tspan dy="-4"> + </tspan><tspan class="i">η</tspan> ·</text>
<text class="m" x="528" y="840" font-size="20" textLength="70" lengthAdjust="spacingAndGlyphs">∂(<tspan class="i">μ</tspan> · <tspan class="i">L</tspan>)</text>
<line x1="526" y1="849" x2="600" y2="849" stroke="#222" stroke-width="1.2"/>
<text class="m" x="535" y="873" font-size="20"><tspan>∂</tspan><tspan class="i">θ</tspan><tspan font-size="13" dy="4">temp</tspan></text>
<text class="lb" x="612" y="853" font-size="20" textLength="190" lengthAdjust="spacingAndGlyphs">Capture fine-grained</text>
<text class="lb" x="652" y="879" font-size="20" textLength="108" lengthAdjust="spacingAndGlyphs">information</text>
</svg>
</body></html>
